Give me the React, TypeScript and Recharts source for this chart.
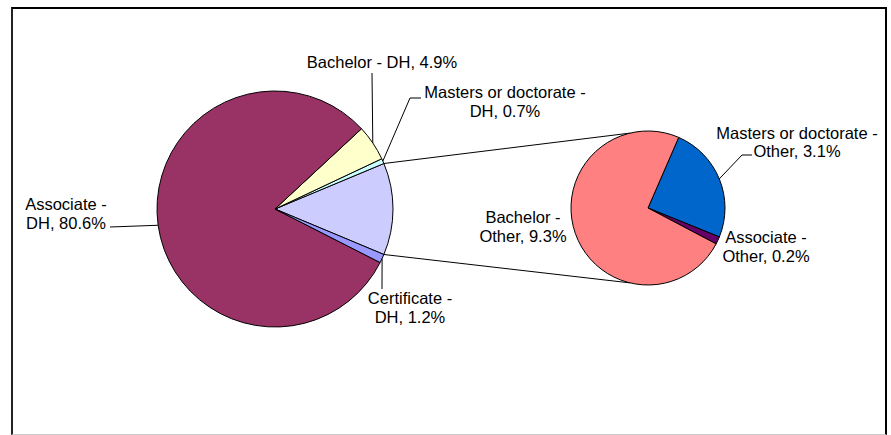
import { PieChart, Pie, Cell, Customized } from "recharts";

// main pie (DH + combined "Other")
const mainNames = ["Other", "Masters or doctorate - DH", "Bachelor - DH", "Associate - DH", "Certificate - DH"];
const mainValues = [12.6, 0.7, 4.9, 80.6, 1.2];
const mainColors = ["#CCCCFF", "#CCFFFF", "#FFFFCC", "#993366", "#9999FF"];

// secondary pie (breakdown of "Other")
const subNames = ["Masters or doctorate - Other", "Associate - Other", "Bachelor - Other"];
const subValues = [3.1, 0.2, 9.3];
const subColors = ["#0066CC", "#660066", "#FF8080"];

const mainData = mainNames.map((name, i) => ({ name, value: mainValues[i] }));
const subData = subNames.map((name, i) => ({ name, value: subValues[i] }));

const MAIN = { cx: 275, cy: 209, r: 118 };
const SUB = { cx: 648, cy: 208, r: 77, start: 66.5 };

const font = "'Liberation Sans', Arial, sans-serif";

// label text layout: x center, baselines, leader elbow points
const labelLayout: Record<string, { x: number; ys: number[]; leader?: number[][] }> = {
  "Bachelor - DH": { x: 382, ys: [68], leader: [[372, 73]] },
  "Masters or doctorate - DH": { x: 505, ys: [98, 117], leader: [[410, 98], [421, 98]] },
  "Associate - DH": { x: 66, ys: [210, 229], leader: [[110, 227]] },
  "Certificate - DH": { x: 410, ys: [304, 323], leader: [[382, 289]] },
  "Masters or doctorate - Other": { x: 797, ys: [139, 157], leader: [[742, 155], [752, 155]] },
  "Associate - Other": { x: 766, ys: [243, 262] },
  "Bachelor - Other": { x: 523, ys: [223, 242] },
};

const RAD = Math.PI / 180;

function renderLabel(props: any) {
  const { name, value, midAngle, cx, cy, outerRadius } = props;
  const lay = labelLayout[name];
  if (!lay) return null;
  const sx = cx + outerRadius * Math.cos(-midAngle * RAD);
  const sy = cy + outerRadius * Math.sin(-midAngle * RAD);
  const parts = name.split(" - ");
  const pct = `${value.toFixed(1)}%`;
  const lines = lay.ys.length === 1 ? [`${parts[0]} - ${parts[1]}, ${pct}`] : [`${parts[0]} -`, `${parts[1]}, ${pct}`];
  const pts = lay.leader ? [[sx, sy], ...lay.leader].map((p) => p.join(",")).join(" ") : null;
  return (
    <g key={name}>
      {pts && <polyline points={pts} fill="none" stroke="#000" strokeWidth={1} />}
      {lines.map((t, i) => (
        <text key={i} x={lay.x} y={lay.ys[i]} textAnchor="middle" fill="#000" fontSize={16.5} fontFamily={font}>
          {t}
        </text>
      ))}
    </g>
  );
}

function Connectors() {
  const otherHalf = (mainValues[0] / mainValues.reduce((a, b) => a + b, 0)) * 180;
  const endAngle = 103.4;
  const seg = (sign: number) => {
    const a1 = sign * otherHalf * RAD;
    const a2 = sign * endAngle * RAD;
    return (
      <line
        key={sign}
        x1={MAIN.cx + MAIN.r * Math.cos(a1)}
        y1={MAIN.cy - MAIN.r * Math.sin(a1)}
        x2={SUB.cx + SUB.r * Math.cos(a2)}
        y2={SUB.cy - SUB.r * Math.sin(a2)}
        stroke="#000"
        strokeWidth={1}
      />
    );
  };
  return <g>{[seg(1), seg(-1)]}</g>;
}

export default function App() {
  const total = mainValues.reduce((a, b) => a + b, 0);
  const mainStart = -(mainValues[0] / total) * 180;
  return (
    <div style={{ position: "absolute", left: 0, top: 0, width: 891, height: 435, background: "#fff" }}>
      <div
        style={{
          position: "absolute",
          left: 11,
          top: 7,
          width: 872,
          height: 425,
          borderTop: "2px solid #000",
          borderLeft: "2px solid #222",
          borderRight: "2px solid #000",
          borderBottom: "1px solid #ccc",
        }}
      />
      <PieChart
        width={891}
        height={435}
        margin={{ top: 0, right: 0, bottom: 0, left: 0 }}
        style={{ position: "absolute", left: 0, top: 0 }}
      >
        <Customized component={Connectors} />
        <Pie
          data={mainData}
          dataKey="value"
          nameKey="name"
          cx={MAIN.cx}
          cy={MAIN.cy}
          outerRadius={MAIN.r}
          startAngle={mainStart}
          endAngle={mainStart + 360}
          stroke="#000"
          strokeWidth={1}
          label={renderLabel}
          labelLine={false}
          isAnimationActive={false}
        >
          {mainData.map((d, i) => (
            <Cell key={d.name} fill={mainColors[i]} />
          ))}
        </Pie>
        <Pie
          data={subData}
          dataKey="value"
          nameKey="name"
          cx={SUB.cx}
          cy={SUB.cy}
          outerRadius={SUB.r}
          startAngle={SUB.start}
          endAngle={SUB.start - 360}
          stroke="#000"
          strokeWidth={1}
          label={renderLabel}
          labelLine={false}
          isAnimationActive={false}
        >
          {subData.map((d, i) => (
            <Cell key={d.name} fill={subColors[i]} />
          ))}
        </Pie>
      </PieChart>
    </div>
  );
}
